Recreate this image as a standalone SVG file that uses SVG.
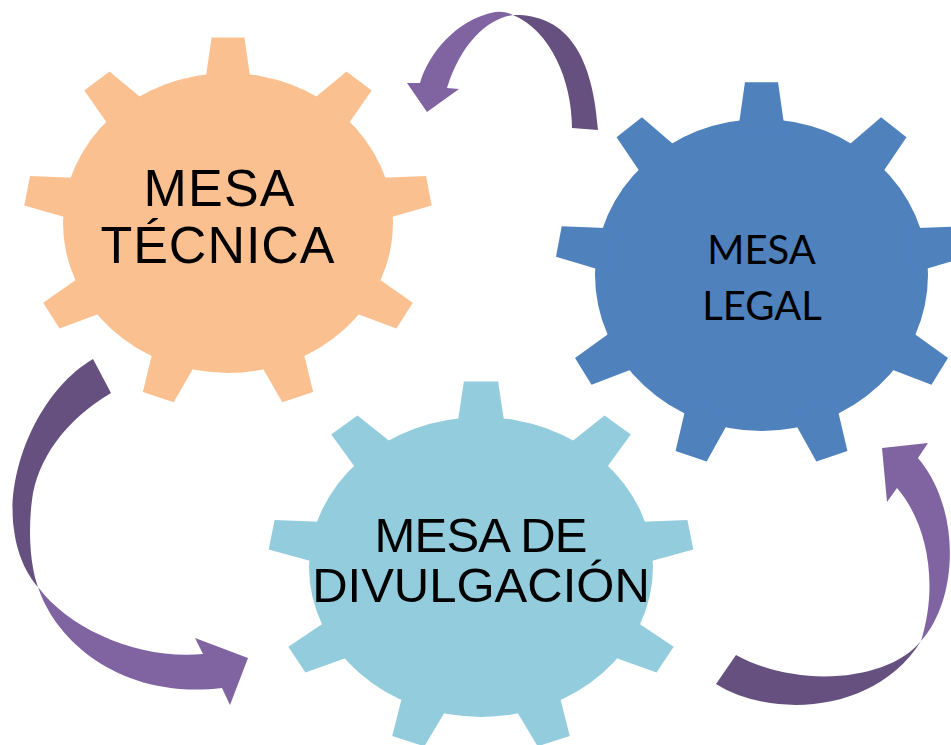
<svg xmlns="http://www.w3.org/2000/svg" width="951" height="745" viewBox="0 0 951 745">
<style>
.t{font-family:"Liberation Sans",Arial,sans-serif;fill:#000}
.c{font-family:Lato,"Open Sans","Noto Sans",sans-serif;fill:#000}
.dark{fill:#66507f}
.light{fill:#8064a2}
</style>
<defs>
<g id="gear">
<circle r="100"/>
<polygon id="tooth" points="-14.4,-90 -9.94,-123.6 9.94,-123.6 14.4,-90"/>
<use href="#tooth" transform="rotate(40)"/>
<use href="#tooth" transform="rotate(80)"/>
<use href="#tooth" transform="rotate(120)"/>
<use href="#tooth" transform="rotate(160)"/>
<use href="#tooth" transform="rotate(200)"/>
<use href="#tooth" transform="rotate(240)"/>
<use href="#tooth" transform="rotate(280)"/>
<use href="#tooth" transform="rotate(320)"/>
</g>
</defs>
<rect width="951" height="745" fill="#fff"/>
<g id="connectors">
<g id="arrow-top">
<path class="light" d="M420,83 C428,55 455,20 495,12 Q506,11 513,15 C490,18 462,40 447,88 L459,89 L427,112 L407,83 Z"/>
<path class="dark" d="M513,15 C560,14 592,45 598,130 L572,128 C572,80 550,30 513,15 Z"/>
</g>
<g id="arrow-left">
<path class="dark" d="M93,359 C40,390 5,470 14,530 C18,560 30,578 38,587 C30,565 28,530 32,500 C37,460 65,420 111,393 Z"/>
<path class="light" d="M38,587 C55,640 120,700 222,688 L230,705 L248,658 L195,638 L203,654 C140,660 70,630 38,587 Z"/>
</g>
<g id="arrow-right">
<path class="dark" d="M716,684 C770,718 875,715 921,641 C890,680 800,690 736,655 Z"/>
<path class="light" d="M921,641 C958,600 962,510 918,458 L928,443 L882,448 L887,502 L897,488 C925,520 940,580 921,641 Z"/>
</g>
</g>
<g id="mesa-tecnica">
<use href="#gear" transform="translate(228,223) scale(1.65,1.5)" fill="#fac090"/>
<text class="t" font-size="52" text-anchor="middle" x="219" y="205.5" textLength="151">MESA</text>
<text class="t" font-size="52" text-anchor="middle" x="217.5" y="262.5" textLength="234">TÉCNICA</text>
</g>
<g id="mesa-legal">
<use href="#gear" transform="translate(761.5,275) scale(1.665,1.56)" fill="#4f81bd"/>
<text class="c" font-size="40" text-anchor="middle" x="761.5" y="264">MESA</text>
<text class="c" font-size="40" text-anchor="middle" x="762" y="320">LEGAL</text>
</g>
<g id="mesa-divulgacion">
<use href="#gear" transform="translate(481,567) scale(1.72,1.5)" fill="#93cddd"/>
<text class="t" font-size="49" text-anchor="middle" x="481" y="551.5" textLength="213">MESA DE</text>
<text class="t" font-size="49" text-anchor="middle" x="481" y="602">DIVULGACIÓN</text>
</g>
</svg>
